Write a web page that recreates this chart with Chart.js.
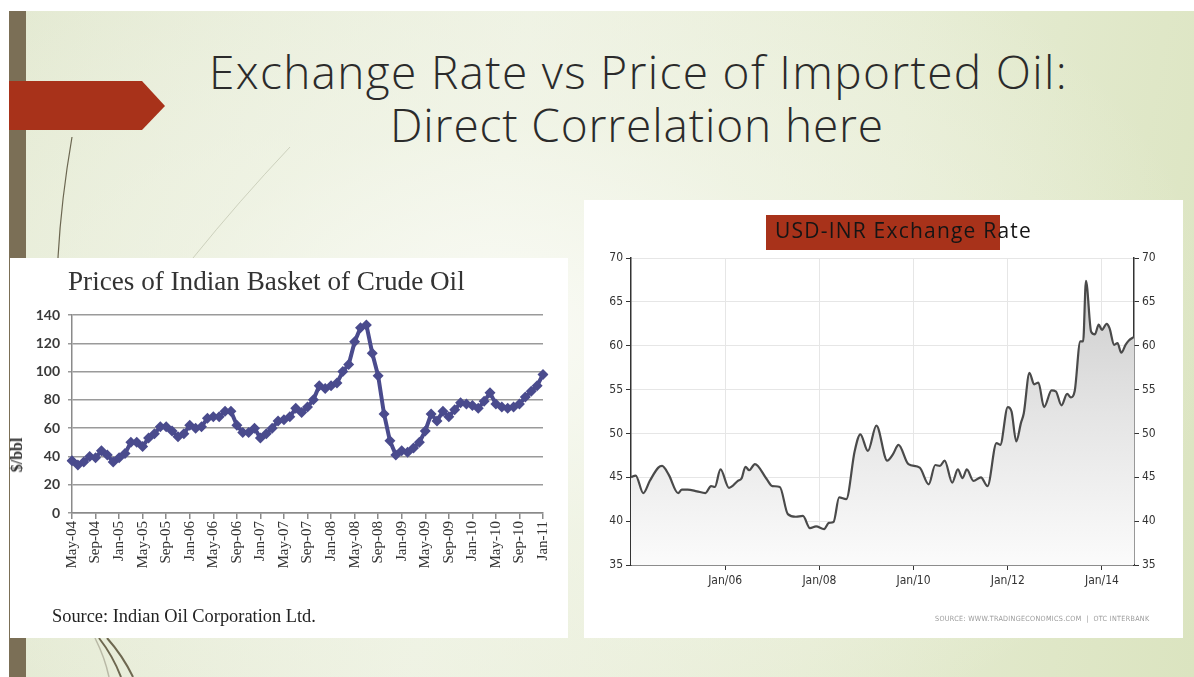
<!DOCTYPE html>
<html>
<head>
<meta charset="utf-8">
<script src="https://cdn.jsdelivr.net/npm/chart.js@4.4.1/dist/chart.umd.min.js"></script>
<style>
  html, body { margin: 0; padding: 0; background: #fff; }
  #slide {
    position: absolute; left: 9px; top: 11px; width: 1185px; height: 666px; overflow: hidden;
    background:
      radial-gradient(ellipse 60% 70% at 42% 48%, rgba(250,251,246,0.95) 0%, rgba(243,246,234,0.6) 45%, rgba(243,246,234,0) 100%),
      linear-gradient(100deg, #e3e9d1 0%, #edf1e1 40%, #e6ecd3 70%, #dbe4c0 100%);
  }
  .abs { position: absolute; white-space: nowrap; }
  .title { font-family: 'Open Sans', Lato, sans-serif; font-weight: 300; color: #2b2b2b; font-size: 46px; line-height: 1; }
  .panel { position: absolute; background: #fff; }
  canvas { position: absolute; }
</style>
</head>
<body>
<div id="slide">
  <svg class="abs" style="left:0;top:0" width="1185" height="666">
    <path d="M63 126 Q52 190 49 247" stroke="#6b6650" stroke-width="1.2" fill="none"/>
    <path d="M281 136 Q230 190 184 247" stroke="#cdd1bd" stroke-width="1" fill="none"/>
    <path d="M90 627 Q104 645 112 666" stroke="#6e6850" stroke-width="2" fill="none"/>
    <path d="M98 627 Q114 645 124 666" stroke="#6e6850" stroke-width="2" fill="none"/>
    <path d="M86 627 Q96 647 100 666" stroke="#b9b9a6" stroke-width="1.5" fill="none"/>
  </svg>
  <div class="abs" style="left:0;top:0;width:17px;height:666px;background:#7b6f56"></div>
  <svg class="abs" style="left:0;top:70px" width="160" height="50">
    <polygon points="0,0 133,0 156,25 133,49 0,49" fill="#a8321a"/>
  </svg>
</div>

<div class="abs title" data-w="859" style="left:209px;top:48px">Exchange Rate vs Price of Imported Oil:</div>
<div class="abs title" data-w="494" style="left:390px;top:101px">Direct Correlation here</div>

<div class="panel" style="left:10px;top:258px;width:558px;height:380px"></div>
<canvas id="oilChart" width="558" height="380" style="left:10px;top:258px"></canvas>
<div class="abs" data-fit="397" style="left:68px;top:266px;font-family:'Liberation Serif','Times New Roman',serif;font-size:25px;color:#333">Prices of Indian Basket of Crude Oil</div>
<div class="abs" style="left:17px;top:455px;transform:translate(-50%,-50%) rotate(-90deg);font-family:'Liberation Serif',serif;font-size:16px;font-weight:bold;color:#333">$/bbl</div>
<div class="abs" data-fit="264" style="left:52px;top:606px;font-family:'Liberation Serif','Times New Roman',serif;font-size:17px;color:#222">Source: Indian Oil Corporation Ltd.</div>

<div class="panel" style="left:584px;top:200px;width:599px;height:438px"></div>
<canvas id="fxChart" width="599" height="438" style="left:584px;top:200px"></canvas>
<div class="abs" style="left:766px;top:215px;width:234px;height:35px;background:#a8321a"></div>
<div class="abs title" data-w="257" style="left:775px;top:220px;font-size:21px;color:#151515;font-weight:400">USD-INR Exchange Rate</div>
<div class="abs" data-fit="212" style="left:935px;top:614px;font-family:'Liberation Sans Narrow','DejaVu Sans Condensed',sans-serif;font-size:9px;color:#9a9a9a;letter-spacing:0.3px">SOURCE: WWW.TRADINGECONOMICS.COM&nbsp; | &nbsp;OTC INTERBANK</div>

<script>
// ---- Crude oil (Indian basket), monthly, $/bbl ----
const oilMonths = [
  'May-04','Jun-04','Jul-04','Aug-04','Sep-04','Oct-04','Nov-04','Dec-04',
  'Jan-05','Feb-05','Mar-05','Apr-05','May-05','Jun-05','Jul-05','Aug-05','Sep-05','Oct-05','Nov-05','Dec-05',
  'Jan-06','Feb-06','Mar-06','Apr-06','May-06','Jun-06','Jul-06','Aug-06','Sep-06','Oct-06','Nov-06','Dec-06',
  'Jan-07','Feb-07','Mar-07','Apr-07','May-07','Jun-07','Jul-07','Aug-07','Sep-07','Oct-07','Nov-07','Dec-07',
  'Jan-08','Feb-08','Mar-08','Apr-08','May-08','Jun-08','Jul-08','Aug-08','Sep-08','Oct-08','Nov-08','Dec-08',
  'Jan-09','Feb-09','Mar-09','Apr-09','May-09','Jun-09','Jul-09','Aug-09','Sep-09','Oct-09','Nov-09','Dec-09',
  'Jan-10','Feb-10','Mar-10','Apr-10','May-10','Jun-10','Jul-10','Aug-10','Sep-10','Oct-10','Nov-10','Dec-10',
  'Jan-11'
];
const oilPrices = [
  37, 34, 36, 40, 39, 44, 41, 36,
  39, 42, 50, 50, 47, 53, 56, 61, 61, 58, 54, 56,
  62, 60, 61, 67, 68, 68, 72, 72, 62, 57, 57, 60,
  53, 56, 60, 65, 66, 68, 74, 71, 75, 80, 90, 88,
  90, 92, 100, 105, 121, 131, 133, 113, 97, 70, 51, 41,
  44, 43, 46, 50, 58, 70, 65, 72, 68, 73, 78, 77,
  76, 74, 79, 85, 77, 75, 74, 75, 77, 82, 86, 90,
  98
];
const oilTickEvery = 4;

// ---- USD-INR exchange rate ----
const fxYears = [
  2004.00, 2004.10, 2004.26, 2004.40, 2004.58, 2004.66, 2004.80, 2005.00, 2005.08, 2005.20,
  2005.40, 2005.58, 2005.70, 2005.78, 2005.90, 2006.08, 2006.27, 2006.35, 2006.43, 2006.51,
  2006.63, 2006.88, 2007.00, 2007.16, 2007.33, 2007.50, 2007.65, 2007.80, 2007.93, 2008.10,
  2008.20, 2008.30, 2008.42, 2008.57, 2008.75, 2008.87, 2009.03, 2009.21, 2009.44, 2009.56,
  2009.68, 2009.89, 2010.13, 2010.32, 2010.46, 2010.56, 2010.66, 2010.82, 2010.94, 2011.04,
  2011.13, 2011.27, 2011.43, 2011.57, 2011.76, 2011.84, 2012.00, 2012.08, 2012.18, 2012.28,
  2012.34, 2012.46, 2012.56, 2012.65, 2012.77, 2012.93, 2013.02, 2013.14, 2013.26, 2013.34,
  2013.42, 2013.54, 2013.60, 2013.66, 2013.77, 2013.85, 2013.93, 2014.00, 2014.10, 2014.16,
  2014.26, 2014.33, 2014.41, 2014.50, 2014.57, 2014.68
];
const fxRates = [
  45.0, 45.2, 43.2, 44.6, 46.1, 46.3, 45.3, 43.2, 43.6, 43.6,
  43.4, 43.2, 44.0, 43.9, 45.9, 43.8, 44.6, 44.9, 46.2, 45.8,
  46.5, 44.8, 44.0, 43.9, 40.8, 40.5, 40.6, 39.2, 39.4, 39.1,
  39.8, 39.9, 42.7, 42.5, 48.0, 49.9, 48.0, 50.9, 46.9, 47.6,
  48.7, 46.5, 46.1, 44.2, 46.4, 46.3, 46.9, 44.4, 45.9, 44.9,
  45.9, 44.6, 45.0, 44.0, 48.9, 48.7, 53.0, 52.5, 49.1, 51.2,
  52.3, 56.9, 55.6, 55.8, 53.0, 54.9, 54.8, 53.2, 54.5, 54.1,
  54.8, 60.5, 60.5, 67.4, 61.6, 61.3, 62.4, 61.8, 62.5, 62.0,
  60.1, 60.3, 59.2, 60.1, 60.6, 61.0
];
const fxTickYears = [2006, 2008, 2010, 2012, 2014];
const fxTickLabels = ['Jan/06', 'Jan/08', 'Jan/10', 'Jan/12', 'Jan/14'];

// ---- text fitting (titles) ----
document.querySelectorAll('[data-w]').forEach(el => {
  const target = +el.dataset.w;
  const w = el.getBoundingClientRect().width;
  const n = el.textContent.length;
  el.style.letterSpacing = ((target - w) / n) + 'px';
});
document.querySelectorAll('[data-fit]').forEach(el => {
  const target = +el.dataset.fit;
  const w = el.getBoundingClientRect().width;
  const fs = parseFloat(getComputedStyle(el).fontSize);
  el.style.fontSize = (fs * target / w) + 'px';
});

const oilBlue = '#4a4b8d';
const narrow = "'Liberation Sans Narrow', 'DejaVu Sans Condensed', sans-serif";

new Chart(document.getElementById('oilChart'), {
  type: 'line',
  data: {
    labels: oilMonths,
    datasets: [{
      data: oilPrices,
      borderColor: oilBlue,
      backgroundColor: oilBlue,
      borderWidth: 4,
      pointStyle: 'rectRot',
      pointRadius: 5.5,
      pointBorderWidth: 0,
      tension: 0
    }]
  },
  options: {
    responsive: false,
    animation: false,
    layout: { padding: { top: 57, right: 25, bottom: 0, left: 0 } },
    plugins: { legend: { display: false }, tooltip: { enabled: false } },
    scales: {
      x: {
        offset: false,
        grid: {
          drawOnChartArea: false,
          tickLength: 6,
          lineWidth: 1.5,
          color: c => (c.index % oilTickEvery === 0 ? '#8a8a8a' : 'rgba(0,0,0,0)')
        },
        border: { color: '#8a8a8a', width: 1.5 },
        ticks: {
          autoSkip: false,
          minRotation: 90,
          maxRotation: 90,
          padding: 2,
          color: '#333',
          font: { family: "'Liberation Serif', serif", size: 15 },
          callback: (v, i) => (i % oilTickEvery === 0 ? oilMonths[i] : '')
        },
        afterFit: s => { s.height = 125; }
      },
      y: {
        min: 0,
        max: 140,
        ticks: {
          stepSize: 20,
          padding: 8,
          color: '#3a3a3a',
          font: { family: 'Lato, sans-serif', size: 14, weight: 'bold' }
        },
        grid: { color: '#9a9a9a', lineWidth: 1.5, tickLength: 4 },
        border: { color: '#8a8a8a', width: 1.5 },
        afterFit: s => { s.width = 62; }
      }
    }
  }
});

new Chart(document.getElementById('fxChart'), {
  type: 'line',
  data: {
    datasets: [{
      data: fxYears.map((x, i) => ({ x: x, y: fxRates[i] })),
      borderColor: '#4a4a4a',
      borderWidth: 2.2,
      pointRadius: 0,
      cubicInterpolationMode: 'monotone',
      fill: 'start',
      backgroundColor: c => {
        const area = c.chart.chartArea;
        if (!area) return 'rgba(0,0,0,0)';
        const g = c.chart.ctx.createLinearGradient(0, area.top, 0, area.bottom);
        g.addColorStop(0, '#c9c9c9');
        g.addColorStop(0.5, '#e4e4e4');
        g.addColorStop(1, '#fbfbfb');
        return g;
      }
    }]
  },
  options: {
    responsive: false,
    animation: false,
    layout: { padding: { top: 58, right: 0, bottom: 0, left: 0 } },
    plugins: { legend: { display: false }, tooltip: { enabled: false } },
    scales: {
      x: {
        type: 'linear',
        min: 2004.0,
        max: 2014.68,
        afterBuildTicks: s => { s.ticks = fxTickYears.map(v => ({ value: v })); },
        ticks: {
          padding: 4,
          color: '#333',
          font: { family: narrow, size: 12 },
          callback: (v, i) => fxTickLabels[i]
        },
        grid: { color: '#e6e6e6', tickColor: '#333', tickLength: 5, lineWidth: 1 },
        border: { color: '#333', width: 1.5 },
        afterFit: s => { s.height = 73; }
      },
      y: {
        position: 'left',
        min: 35,
        max: 70,
        ticks: { stepSize: 5, padding: 3, color: '#333', font: { family: narrow, size: 12 } },
        grid: { color: '#e6e6e6', tickColor: '#333', tickLength: 5, lineWidth: 1 },
        border: { color: '#333', width: 1.5 },
        afterFit: s => { s.width = 47; }
      },
      y2: {
        position: 'right',
        min: 35,
        max: 70,
        ticks: { stepSize: 5, padding: 3, color: '#333', font: { family: narrow, size: 12 } },
        grid: { drawOnChartArea: false, color: '#333', tickLength: 5 },
        border: { color: '#333', width: 1.5 },
        afterFit: s => { s.width = 49; }
      }
    }
  }
});
</script>
</body>
</html>
